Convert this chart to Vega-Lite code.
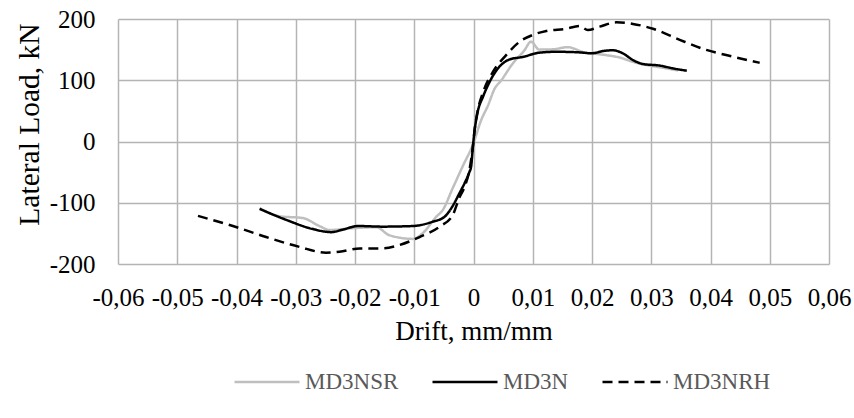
{
  "$schema": "https://vega.github.io/schema/vega-lite/v6.json",
  "width": 711,
  "height": 245,
  "autosize": {"type": "none"},
  "padding": {"left": 118, "top": 19, "right": 25, "bottom": 154},
  "background": "white",
  "config": {
    "view": {"stroke": null},
    "font": "Liberation Serif"
  },
  "datasets": {
    "d": [
      {"s":"MD3NSR","o":1,"x":-0.0361,"y":-109},
      {"s":"MD3NSR","o":2,"x":-0.0327,"y":-122},
      {"s":"MD3NSR","o":3,"x":-0.0288,"y":-125},
      {"s":"MD3NSR","o":4,"x":-0.026,"y":-138},
      {"s":"MD3NSR","o":5,"x":-0.0243,"y":-144.5},
      {"s":"MD3NSR","o":6,"x":-0.0204,"y":-141.5},
      {"s":"MD3NSR","o":7,"x":-0.0164,"y":-140},
      {"s":"MD3NSR","o":8,"x":-0.0142,"y":-153},
      {"s":"MD3NSR","o":9,"x":-0.0102,"y":-159},
      {"s":"MD3NSR","o":10,"x":-0.0086,"y":-150},
      {"s":"MD3NSR","o":11,"x":-0.0063,"y":-123},
      {"s":"MD3NSR","o":12,"x":-0.0052,"y":-112},
      {"s":"MD3NSR","o":13,"x":-0.0035,"y":-76},
      {"s":"MD3NSR","o":14,"x":-0.0018,"y":-40},
      {"s":"MD3NSR","o":15,"x":-0.0001,"y":-5},
      {"s":"MD3NSR","o":16,"x":0.0013,"y":35},
      {"s":"MD3NSR","o":17,"x":0.0025,"y":60},
      {"s":"MD3NSR","o":18,"x":0.0035,"y":85},
      {"s":"MD3NSR","o":19,"x":0.0047,"y":100},
      {"s":"MD3NSR","o":20,"x":0.0066,"y":127},
      {"s":"MD3NSR","o":21,"x":0.0086,"y":149},
      {"s":"MD3NSR","o":22,"x":0.0097,"y":163},
      {"s":"MD3NSR","o":23,"x":0.0111,"y":150},
      {"s":"MD3NSR","o":24,"x":0.0134,"y":150.5},
      {"s":"MD3NSR","o":25,"x":0.0159,"y":154},
      {"s":"MD3NSR","o":26,"x":0.0184,"y":146.5},
      {"s":"MD3NSR","o":27,"x":0.0224,"y":141},
      {"s":"MD3NSR","o":28,"x":0.0247,"y":137},
      {"s":"MD3NSR","o":29,"x":0.0269,"y":130},
      {"s":"MD3NSR","o":30,"x":0.0291,"y":125},
      {"s":"MD3NSR","o":31,"x":0.0325,"y":119.5},
      {"s":"MD3NSR","o":32,"x":0.0345,"y":116},

      {"s":"MD3N","o":1,"x":-0.0361,"y":-110},
      {"s":"MD3N","o":2,"x":-0.0316,"y":-128},
      {"s":"MD3N","o":3,"x":-0.0271,"y":-143},
      {"s":"MD3N","o":4,"x":-0.024,"y":-148},
      {"s":"MD3N","o":5,"x":-0.0221,"y":-144},
      {"s":"MD3N","o":6,"x":-0.0195,"y":-138},
      {"s":"MD3N","o":7,"x":-0.0153,"y":-139},
      {"s":"MD3N","o":8,"x":-0.0102,"y":-138},
      {"s":"MD3N","o":9,"x":-0.0069,"y":-131},
      {"s":"MD3N","o":10,"x":-0.0049,"y":-123},
      {"s":"MD3N","o":11,"x":-0.0035,"y":-105},
      {"s":"MD3N","o":12,"x":-0.0024,"y":-85},
      {"s":"MD3N","o":13,"x":-0.0015,"y":-68},
      {"s":"MD3N","o":14,"x":-0.0007,"y":-50},
      {"s":"MD3N","o":15,"x":-0.0004,"y":-41},
      {"s":"MD3N","o":16,"x":-0.0001,"y":-8},
      {"s":"MD3N","o":17,"x":0.0002,"y":19},
      {"s":"MD3N","o":18,"x":0.0007,"y":48},
      {"s":"MD3N","o":19,"x":0.0016,"y":73},
      {"s":"MD3N","o":20,"x":0.0027,"y":97},
      {"s":"MD3N","o":21,"x":0.0041,"y":119},
      {"s":"MD3N","o":22,"x":0.0061,"y":134},
      {"s":"MD3N","o":23,"x":0.0083,"y":138},
      {"s":"MD3N","o":24,"x":0.0111,"y":145},
      {"s":"MD3N","o":25,"x":0.014,"y":146.5},
      {"s":"MD3N","o":26,"x":0.0179,"y":145.5},
      {"s":"MD3N","o":27,"x":0.0199,"y":144},
      {"s":"MD3N","o":28,"x":0.0221,"y":148},
      {"s":"MD3N","o":29,"x":0.0235,"y":149},
      {"s":"MD3N","o":30,"x":0.0252,"y":144},
      {"s":"MD3N","o":31,"x":0.0269,"y":133},
      {"s":"MD3N","o":32,"x":0.0286,"y":126.5},
      {"s":"MD3N","o":33,"x":0.0314,"y":124},
      {"s":"MD3N","o":34,"x":0.0336,"y":119.5},
      {"s":"MD3N","o":35,"x":0.036,"y":115.5},

      {"s":"MD3NRH","o":1,"x":-0.0465,"y":-121.5},
      {"s":"MD3NRH","o":2,"x":-0.0406,"y":-138},
      {"s":"MD3NRH","o":3,"x":-0.035,"y":-156},
      {"s":"MD3NRH","o":4,"x":-0.0294,"y":-172},
      {"s":"MD3NRH","o":5,"x":-0.0249,"y":-181.5},
      {"s":"MD3NRH","o":6,"x":-0.0226,"y":-180},
      {"s":"MD3NRH","o":7,"x":-0.0192,"y":-174.5},
      {"s":"MD3NRH","o":8,"x":-0.0153,"y":-174.5},
      {"s":"MD3NRH","o":9,"x":-0.0125,"y":-169},
      {"s":"MD3NRH","o":10,"x":-0.0091,"y":-156},
      {"s":"MD3NRH","o":11,"x":-0.0057,"y":-139},
      {"s":"MD3NRH","o":12,"x":-0.0035,"y":-120},
      {"s":"MD3NRH","o":13,"x":-0.0024,"y":-92},
      {"s":"MD3NRH","o":14,"x":-0.0015,"y":-74},
      {"s":"MD3NRH","o":15,"x":-0.0007,"y":-47},
      {"s":"MD3NRH","o":16,"x":-0.0001,"y":-8},
      {"s":"MD3NRH","o":17,"x":0.0002,"y":20},
      {"s":"MD3NRH","o":18,"x":0.0007,"y":50},
      {"s":"MD3NRH","o":19,"x":0.0016,"y":80},
      {"s":"MD3NRH","o":20,"x":0.0033,"y":114},
      {"s":"MD3NRH","o":21,"x":0.0055,"y":141},
      {"s":"MD3NRH","o":22,"x":0.0078,"y":163},
      {"s":"MD3NRH","o":23,"x":0.01,"y":174},
      {"s":"MD3NRH","o":24,"x":0.0123,"y":180.5},
      {"s":"MD3NRH","o":25,"x":0.0156,"y":184},
      {"s":"MD3NRH","o":26,"x":0.0179,"y":188.5},
      {"s":"MD3NRH","o":27,"x":0.0193,"y":182},
      {"s":"MD3NRH","o":28,"x":0.0213,"y":187.5},
      {"s":"MD3NRH","o":29,"x":0.0241,"y":194.5},
      {"s":"MD3NRH","o":30,"x":0.0269,"y":192},
      {"s":"MD3NRH","o":31,"x":0.0303,"y":184},
      {"s":"MD3NRH","o":32,"x":0.0348,"y":166},
      {"s":"MD3NRH","o":33,"x":0.0393,"y":149.5},
      {"s":"MD3NRH","o":34,"x":0.0438,"y":138.5},
      {"s":"MD3NRH","o":35,"x":0.0483,"y":128.5}
    ]
  },
  "data": {"name": "d"},
  "mark": {"type": "line", "strokeWidth": 2.5, "interpolate": "monotone"},
  "encoding": {
    "x": {
      "field": "x", "type": "quantitative",
      "scale": {"domain": [-0.06, 0.06], "nice": false, "zero": false},
      "axis": {
        "values": [-0.06,-0.05,-0.04,-0.03,-0.02,-0.01,0,0.01,0.02,0.03,0.04,0.05,0.06],
        "labelExpr": "datum.value == 0 ? '0' : (datum.value < 0 ? '-' : '') + replace(format(abs(datum.value), '.2f'), '.', ',')",
        "title": "Drift, mm/mm",
        "domain": false, "ticks": false,
        "grid": true, "gridColor": "#b4b4b4", "gridWidth": 1.5,
        "labelFont": "Liberation Serif", "labelFontSize": 25, "labelColor": "#000000",
        "labelBaseline": "alphabetic", "labelPadding": 41, "labelOverlap": false, "labelFlush": false,
        "titleFont": "Liberation Serif", "titleFontSize": 27, "titleFontWeight": "normal", "titleColor": "#000000",
        "titleBaseline": "alphabetic", "titleY": 75, "titleX": 355.5
      }
    },
    "y": {
      "field": "y", "type": "quantitative",
      "scale": {"domain": [-200, 200], "nice": false},
      "axis": {
        "values": [-200,-100,0,100,200],
        "labelExpr": "(datum.value < 0 ? '-' : '') + format(abs(datum.value), 'd')",
        "title": "Lateral Load, kN",
        "domain": false, "ticks": false,
        "grid": true, "gridColor": "#b4b4b4", "gridWidth": 1.5,
        "labelFont": "Liberation Serif", "labelFontSize": 25, "labelColor": "#000000",
        "labelPadding": 23, "labelOverlap": false, "labelFlush": false,
        "titleFont": "Liberation Serif", "titleFontSize": 29.5, "titleFontWeight": "normal", "titleColor": "#000000",
        "titleAngle": -90, "titleBaseline": "alphabetic", "titleAlign": "center", "titleX": -80, "titleY": 105
      }
    },
    "color": {
      "field": "s", "type": "nominal",
      "scale": {"domain": ["MD3NSR","MD3N","MD3NRH"], "range": ["#bfbfbf","#000000","#000000"]},
      "legend": {
        "title": null, "orient": "none", "direction": "horizontal",
        "legendX": 115, "legendY": 329,
        "symbolType": "stroke", "symbolSize": 4225, "symbolStrokeWidth": 2.5,
        "labelFont": "Liberation Serif", "labelFontSize": 23, "labelColor": "#595959",
        "labelOffset": 4, "columnPadding": 28, "symbolOffset": 0
      }
    },
    "strokeDash": {
      "field": "s", "type": "nominal",
      "scale": {"domain": ["MD3NSR","MD3N","MD3NRH"], "range": [[1,0],[1,0],[10,6]]},
      "legend": {
        "title": null, "orient": "none", "direction": "horizontal",
        "legendX": 115, "legendY": 329,
        "symbolType": "stroke", "symbolSize": 4225, "symbolStrokeWidth": 2.5,
        "labelFont": "Liberation Serif", "labelFontSize": 23, "labelColor": "#595959",
        "labelOffset": 4, "columnPadding": 28, "symbolOffset": 0
      }
    },
    "order": {"field": "o", "type": "quantitative"}
  }
}
